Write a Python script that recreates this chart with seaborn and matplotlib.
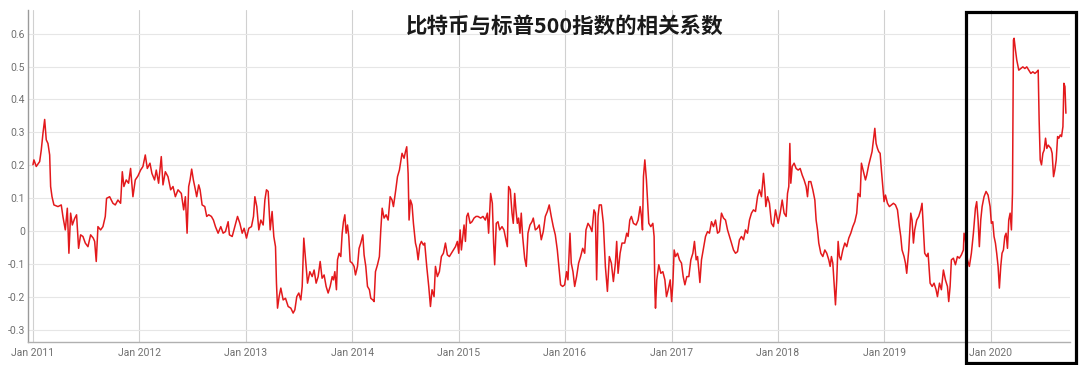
import numpy as np
import pandas as pd
import matplotlib
matplotlib.use("Agg")
import matplotlib.pyplot as plt
import matplotlib.dates as mdates
from matplotlib.patches import Rectangle
import seaborn as sns

# ---------------- data ----------------
title = "比特币与标普500指数的相关系数"

y_ticks = [-0.3, -0.2, -0.1, 0.0, 0.1, 0.2, 0.3, 0.4, 0.5, 0.6]
y_tick_labels = ["-0.3", "-0.2", "-0.1", "0", "0.1", "0.2", "0.3", "0.4", "0.5", "0.6"]
x_tick_years = [2011, 2012, 2013, 2014, 2015, 2016, 2017, 2018, 2019, 2020]

# dates as decimal years
year_frac = [
    2011.000, 2011.009, 2011.031, 2011.063, 2011.078, 2011.094, 2011.110, 2011.125, 2011.141, 2011.157,
    2011.166, 2011.179, 2011.197, 2011.235, 2011.266, 2011.282, 2011.304, 2011.323, 2011.338, 2011.354,
    2011.370, 2011.392, 2011.410, 2011.429, 2011.448, 2011.470, 2011.492, 2011.517, 2011.542, 2011.567,
    2011.580, 2011.595, 2011.611, 2011.636, 2011.658, 2011.680, 2011.692, 2011.721, 2011.752, 2011.774,
    2011.799, 2011.824, 2011.840, 2011.855, 2011.877, 2011.899, 2011.918, 2011.940, 2011.962, 2011.987,
    2012.012, 2012.034, 2012.056, 2012.075, 2012.100, 2012.118, 2012.143, 2012.159, 2012.181, 2012.206,
    2012.222, 2012.244, 2012.269, 2012.294, 2012.316, 2012.338,
    2012.363, 2012.394, 2012.416, 2012.432, 2012.448, 2012.463, 2012.476, 2012.491, 2012.507, 2012.526,
    2012.538, 2012.557, 2012.570, 2012.589, 2012.614, 2012.632, 2012.651, 2012.676, 2012.695, 2012.714,
    2012.739, 2012.764, 2012.786, 2012.808, 2012.833, 2012.845, 2012.871, 2012.896, 2012.921, 2012.943,
    2012.965, 2012.983, 2013.005, 2013.027, 2013.052, 2013.071, 2013.084, 2013.102, 2013.121, 2013.140,
    2013.162, 2013.178, 2013.193, 2013.209, 2013.228, 2013.246, 2013.262, 2013.278, 2013.287, 2013.297,
    2013.312, 2013.328, 2013.350, 2013.372, 2013.397, 2013.422, 2013.444, 2013.460, 2013.478, 2013.497,
    2013.516, 2013.529, 2013.544, 2013.563, 2013.579, 2013.601, 2013.623, 2013.641, 2013.660, 2013.679,
    2013.698, 2013.716, 2013.735, 2013.754,
    2013.773, 2013.792, 2013.811, 2013.823, 2013.836, 2013.851, 2013.861, 2013.876, 2013.892, 2013.905,
    2013.917, 2013.930, 2013.942, 2013.955, 2013.967, 2013.980, 2013.999, 2014.017, 2014.030, 2014.049,
    2014.064, 2014.080, 2014.099, 2014.111, 2014.127, 2014.143, 2014.161, 2014.174, 2014.193, 2014.205,
    2014.218, 2014.237, 2014.255, 2014.268, 2014.281, 2014.299, 2014.318, 2014.337, 2014.356, 2014.374,
    2014.387, 2014.409, 2014.425, 2014.443, 2014.456, 2014.468, 2014.487, 2014.500, 2014.512, 2014.525,
    2014.534, 2014.547, 2014.562, 2014.575, 2014.594, 2014.606, 2014.619, 2014.635, 2014.650, 2014.669,
    2014.681, 2014.700, 2014.719, 2014.735, 2014.750, 2014.769, 2014.782, 2014.800, 2014.819, 2014.838,
    2014.857, 2014.876, 2014.894, 2014.913, 2014.932, 2014.951, 2014.970, 2014.988, 2015.001, 2015.014,
    2015.026, 2015.039, 2015.051, 2015.064, 2015.076, 2015.089, 2015.108, 2015.126, 2015.145, 2015.164,
    2015.182, 2015.207, 2015.229, 2015.251, 2015.270, 2015.282, 2015.301, 2015.317, 2015.329, 2015.339,
    2015.354, 2015.370, 2015.386, 2015.408, 2015.426, 2015.445, 2015.458, 2015.470, 2015.486, 2015.502,
    2015.514, 2015.527, 2015.539, 2015.552, 2015.564, 2015.577, 2015.589, 2015.602, 2015.621, 2015.636,
    2015.652, 2015.671, 2015.690, 2015.702, 2015.721, 2015.740, 2015.758, 2015.777, 2015.796, 2015.815,
    2015.834, 2015.852, 2015.871, 2015.890, 2015.909, 2015.928, 2015.946, 2015.959, 2015.978, 2015.997,
    2016.015, 2016.028, 2016.047, 2016.059, 2016.075, 2016.091, 2016.109, 2016.128, 2016.147, 2016.166,
    2016.185, 2016.197, 2016.216, 2016.235, 2016.253, 2016.272, 2016.285, 2016.297, 2016.310, 2016.322,
    2016.341, 2016.360, 2016.379, 2016.398, 2016.416, 2016.435, 2016.454, 2016.473, 2016.485, 2016.498,
    2016.517, 2016.535, 2016.560, 2016.579,
    2016.592, 2016.608, 2016.623, 2016.642, 2016.667, 2016.686, 2016.705, 2016.717, 2016.727, 2016.736,
    2016.749, 2016.764, 2016.774, 2016.786, 2016.805, 2016.824, 2016.836, 2016.843, 2016.849, 2016.861,
    2016.880, 2016.899, 2016.918, 2016.937, 2016.952, 2016.968, 2016.987, 2017.000, 2017.012, 2017.024,
    2017.037, 2017.056, 2017.074, 2017.093, 2017.109, 2017.125, 2017.143, 2017.162, 2017.181, 2017.200,
    2017.215, 2017.231, 2017.244, 2017.256, 2017.266, 2017.281, 2017.300, 2017.319, 2017.338, 2017.356,
    2017.375, 2017.394, 2017.413, 2017.432, 2017.450, 2017.469, 2017.488, 2017.507, 2017.526, 2017.544,
    2017.563, 2017.582, 2017.601, 2017.620, 2017.638, 2017.657, 2017.676, 2017.695, 2017.714, 2017.732,
    2017.751, 2017.770, 2017.789, 2017.808, 2017.826, 2017.845, 2017.864, 2017.877, 2017.886, 2017.902,
    2017.920, 2017.939, 2017.958, 2017.977,
    2018.002, 2018.021, 2018.040, 2018.058, 2018.077, 2018.090, 2018.102, 2018.112, 2018.121, 2018.134,
    2018.152, 2018.171, 2018.190, 2018.209, 2018.228, 2018.246, 2018.265, 2018.278, 2018.290, 2018.309,
    2018.328, 2018.347, 2018.359, 2018.372, 2018.384, 2018.403, 2018.422, 2018.441, 2018.459, 2018.478,
    2018.491, 2018.503, 2018.516, 2018.528, 2018.541, 2018.553, 2018.566, 2018.578, 2018.591, 2018.610,
    2018.629, 2018.647, 2018.666, 2018.685, 2018.704, 2018.723, 2018.741, 2018.754, 2018.773, 2018.785,
    2018.804, 2018.823, 2018.835, 2018.854, 2018.873, 2018.885, 2018.898, 2018.911, 2018.923, 2018.936,
    2018.948, 2018.961, 2018.973, 2018.986, 2018.998, 2019.011, 2019.030, 2019.048, 2019.067, 2019.086,
    2019.105, 2019.124, 2019.142, 2019.155, 2019.167, 2019.186, 2019.199, 2019.211, 2019.230, 2019.249,
    2019.261, 2019.274, 2019.286, 2019.305, 2019.324, 2019.343, 2019.355, 2019.368, 2019.380, 2019.399,
    2019.412,
    2019.431, 2019.450, 2019.468, 2019.487, 2019.500, 2019.519, 2019.537, 2019.556, 2019.575, 2019.594,
    2019.606, 2019.619, 2019.631, 2019.650, 2019.669, 2019.688, 2019.706, 2019.725, 2019.744, 2019.750,
    2019.763, 2019.782, 2019.800, 2019.819, 2019.838, 2019.857, 2019.869, 2019.882, 2019.894, 2019.907,
    2019.920, 2019.938, 2019.957, 2019.976, 2019.995, 2020.007, 2020.020, 2020.032, 2020.045, 2020.057,
    2020.070, 2020.082, 2020.095, 2020.107, 2020.120, 2020.133, 2020.145, 2020.158, 2020.170, 2020.183,
    2020.195, 2020.205, 2020.214, 2020.220, 2020.233, 2020.245, 2020.264, 2020.283, 2020.302, 2020.321,
    2020.339, 2020.358, 2020.377, 2020.396, 2020.415, 2020.433, 2020.446, 2020.455, 2020.465, 2020.477,
    2020.490, 2020.502, 2020.515, 2020.527, 2020.540, 2020.552, 2020.565, 2020.577, 2020.590, 2020.602,
    2020.615, 2020.628, 2020.640, 2020.653, 2020.665, 2020.678, 2020.687, 2020.697, 2020.706,
]

# BTC / S&P 500 correlation coefficient
correlation = [
    0.201, 0.216, 0.196, 0.211, 0.246, 0.297, 0.339, 0.277, 0.266, 0.231,
    0.135, 0.104, 0.079, 0.074, 0.079, 0.043, 0.003, 0.069, -0.068, 0.054,
    0.018, 0.038, 0.049, -0.053, -0.012, -0.017, -0.037, -0.048, -0.012, -0.022,
    -0.032, -0.093, 0.013, 0.003, 0.013, 0.044, 0.099, 0.104, 0.084, 0.079,
    0.094, 0.084, 0.180, 0.135, 0.155, 0.145, 0.190, 0.104, 0.155, 0.167,
    0.185, 0.196, 0.231, 0.190, 0.206, 0.175, 0.155, 0.185, 0.145, 0.226,
    0.140, 0.180, 0.165, 0.125, 0.135, 0.104,
    0.125, 0.114, 0.064, 0.104, -0.007, 0.135, 0.155, 0.188, 0.155, 0.125,
    0.104, 0.140, 0.125, 0.079, 0.074, 0.044, 0.049, 0.044, 0.033, 0.013,
    -0.007, 0.013, -0.007, -0.002, 0.028, -0.012, -0.017, 0.013, 0.044, 0.023,
    -0.007, 0.008, -0.022, 0.008, 0.013, 0.044, 0.104, 0.074, 0.003, 0.033,
    0.018, 0.094, 0.125, 0.120, 0.003, 0.059, -0.017, -0.048, -0.159, -0.235,
    -0.200, -0.174, -0.210, -0.205, -0.230, -0.235, -0.250, -0.240, -0.200, -0.189,
    -0.210, -0.169, -0.022, -0.098, -0.159, -0.124, -0.139, -0.119, -0.159, -0.139,
    -0.093, -0.144, -0.134, -0.169,
    -0.189, -0.169, -0.139, -0.149, -0.124, -0.179, -0.088, -0.068, -0.078, -0.007,
    0.028, 0.049, -0.007, 0.018, -0.017, -0.093, -0.098, -0.108, -0.134, -0.108,
    -0.053, -0.037, -0.012, -0.073, -0.108, -0.169, -0.179, -0.205, -0.210, -0.215,
    -0.124, -0.103, -0.078, 0.003, 0.069, 0.039, 0.049, 0.033, 0.104, 0.094,
    0.074, 0.125, 0.165, 0.185, 0.211, 0.236, 0.221, 0.241, 0.256, 0.175,
    0.033, 0.094, 0.079, 0.023, -0.037, -0.053, -0.088, -0.043, -0.032, -0.043,
    -0.037, -0.108, -0.169, -0.230, -0.179, -0.200, -0.108, -0.139, -0.124, -0.078,
    -0.068, -0.037, -0.073, -0.078, -0.068, -0.058, -0.048, -0.032, -0.068, 0.003,
    -0.058, -0.017, 0.018, -0.032, 0.044, 0.054, 0.023, 0.028, 0.039, 0.044,
    0.044, 0.039, 0.044, 0.033, 0.054, -0.007, 0.114, 0.084, -0.037, -0.103,
    0.023, 0.028, 0.003, 0.013, 0.003, -0.027, -0.048, 0.135, 0.125, 0.054,
    0.023, 0.114, 0.064, 0.023, 0.039, -0.007, 0.054, -0.017, -0.083, -0.108,
    -0.007, 0.018, 0.028, 0.039, 0.003, 0.008, 0.018, -0.027, -0.002, 0.044,
    0.059, 0.079, 0.044, 0.013, -0.012, -0.058, -0.119, -0.164, -0.169, -0.164,
    -0.124, -0.149, -0.007, -0.098, -0.124, -0.169, -0.139, -0.098, -0.078, -0.053,
    -0.068, 0.003, 0.023, 0.013, -0.002, 0.064, 0.054, -0.149, 0.044, 0.079,
    0.079, 0.023, -0.108, -0.184, -0.078, -0.098, -0.154, -0.098, -0.032, -0.129,
    -0.068, -0.037, -0.037, -0.007,
    -0.017, 0.033, 0.044, 0.023, 0.018, 0.033, 0.074, 0.044, 0.003, 0.165,
    0.216, 0.155, 0.094, 0.023, 0.013, 0.023, -0.017, -0.179, -0.235, -0.149,
    -0.103, -0.129, -0.124, -0.149, -0.200, -0.179, -0.149, -0.215, -0.159, -0.058,
    -0.078, -0.068, -0.088, -0.098, -0.139, -0.164, -0.139, -0.139, -0.088, -0.068,
    -0.032, -0.088, -0.078, -0.119, -0.157, -0.088, -0.053, -0.017, -0.002, -0.007,
    0.028, 0.013, 0.033, -0.007, -0.002, 0.054, 0.039, 0.033, 0.003, -0.017,
    -0.037, -0.058, -0.068, -0.063, -0.027, -0.017, -0.027, 0.003, -0.007, 0.033,
    0.054, 0.064, 0.059, 0.104, 0.125, 0.104, 0.175, 0.125, 0.074, 0.104,
    0.084, 0.023, 0.013, 0.064,
    0.023, 0.054, 0.094, 0.054, 0.044, 0.114, 0.135, 0.266, 0.145, 0.196,
    0.206, 0.190, 0.185, 0.190, 0.170, 0.155, 0.135, 0.104, 0.150, 0.150,
    0.125, 0.094, 0.033, 0.003, -0.037, -0.068, -0.078, -0.058, -0.068, -0.088,
    -0.108, -0.078, -0.098, -0.159, -0.225, -0.149, -0.032, -0.078, -0.088, -0.058,
    -0.037, -0.048, -0.022, -0.007, 0.013, 0.028, 0.054, 0.114, 0.104, 0.206,
    0.180, 0.155, 0.170, 0.201, 0.226, 0.241, 0.277, 0.312, 0.266, 0.251,
    0.241, 0.236, 0.185, 0.135, 0.089, 0.109, 0.084, 0.074, 0.079, 0.084,
    0.079, 0.064, 0.013, -0.017, -0.058, -0.078, -0.098, -0.129, -0.058, 0.054,
    0.033, -0.037, 0.003, 0.033, 0.044, 0.064, 0.084, 0.003, -0.068, -0.078,
    -0.068,
    -0.159, -0.169, -0.159, -0.179, -0.200, -0.159, -0.179, -0.119, -0.149, -0.169,
    -0.215, -0.169, -0.088, -0.083, -0.103, -0.078, -0.083, -0.073, -0.058, -0.007,
    -0.027, -0.088, -0.108, -0.068, -0.007, 0.069, 0.089, 0.033, -0.048, 0.033,
    0.074, 0.104, 0.120, 0.109, 0.074, 0.023, 0.028, -0.017, -0.037, -0.068,
    -0.108, -0.174, -0.108, -0.068, -0.058, -0.017, -0.007, -0.053, 0.033, 0.054,
    0.003, 0.114, 0.581, 0.586, 0.550, 0.520, 0.489, 0.494, 0.499, 0.494,
    0.499, 0.489, 0.479, 0.484, 0.479, 0.484, 0.489, 0.337, 0.216, 0.201,
    0.236, 0.246, 0.282, 0.251, 0.261, 0.256, 0.251, 0.236, 0.165, 0.185,
    0.216, 0.287, 0.282, 0.292, 0.287, 0.317, 0.449, 0.439, 0.358,
]


def to_datetime(t):
    year = int(np.floor(t))
    start = pd.Timestamp(year=year, month=1, day=1)
    days = 366 if pd.Timestamp(year=year, month=12, day=31).dayofyear == 366 else 365
    return start + pd.to_timedelta((t - year) * days, unit="D")


n = min(len(year_frac), len(correlation))
df = pd.DataFrame({
    "date": [to_datetime(t) for t in year_frac[:n]],
    "corr": correlation[:n],
})

# ---------------- figure ----------------
sns.set_theme(style="white")
plt.rcParams["font.family"] = ["Roboto", "DejaVu Sans"]

fig = plt.figure(figsize=(10.8, 3.65), dpi=100)
fig.patch.set_facecolor("white")
ax = fig.add_axes([0.0259, 0.063, 0.965, 0.9096])

sns.lineplot(data=df, x="date", y="corr", ax=ax, color="#e3191c",
             linewidth=1.1, sort=True, estimator=None)

ax.set_xlim(to_datetime(2010.953), to_datetime(2020.746))
ax.set_ylim(-0.338, 0.672)

ax.set_yticks(y_ticks)
ax.set_yticklabels(y_tick_labels)
ax.set_xticks([pd.Timestamp(year=y, month=1, day=1) for y in x_tick_years])
ax.xaxis.set_major_formatter(mdates.DateFormatter("%b %Y"))

ax.set_xlabel("")
ax.set_ylabel("")
ax.yaxis.grid(True, color="#e6e6e6", linewidth=0.8)
ax.xaxis.grid(True, color="#d0d0d0", linewidth=0.8)
ax.set_axisbelow(True)

ax.tick_params(axis="both", length=0, colors="#707070", labelsize=7.5)
ax.tick_params(axis="x", pad=4)
ax.tick_params(axis="y", pad=2)

for side in ["top", "right"]:
    ax.spines[side].set_visible(False)
ax.spines["left"].set_color("#9a9a9a")
ax.spines["left"].set_linewidth(1.0)
ax.spines["bottom"].set_color("#b0b0b0")
ax.spines["bottom"].set_linewidth(1.0)

fig.text(0.523, 0.928, title, ha="center", va="center", fontsize=15.5,
         fontweight="bold", color="#1a1a1a",
         family=["Noto Sans CJK SC", "DejaVu Sans"])

# highlight box around 2020
rect = Rectangle((0.8944, 0.0055), 0.1019, 0.9616, transform=fig.transFigure,
                 fill=False, edgecolor="black", linewidth=2.3)
fig.add_artist(rect)

fig.savefig("out.png", dpi=100, facecolor="white")
